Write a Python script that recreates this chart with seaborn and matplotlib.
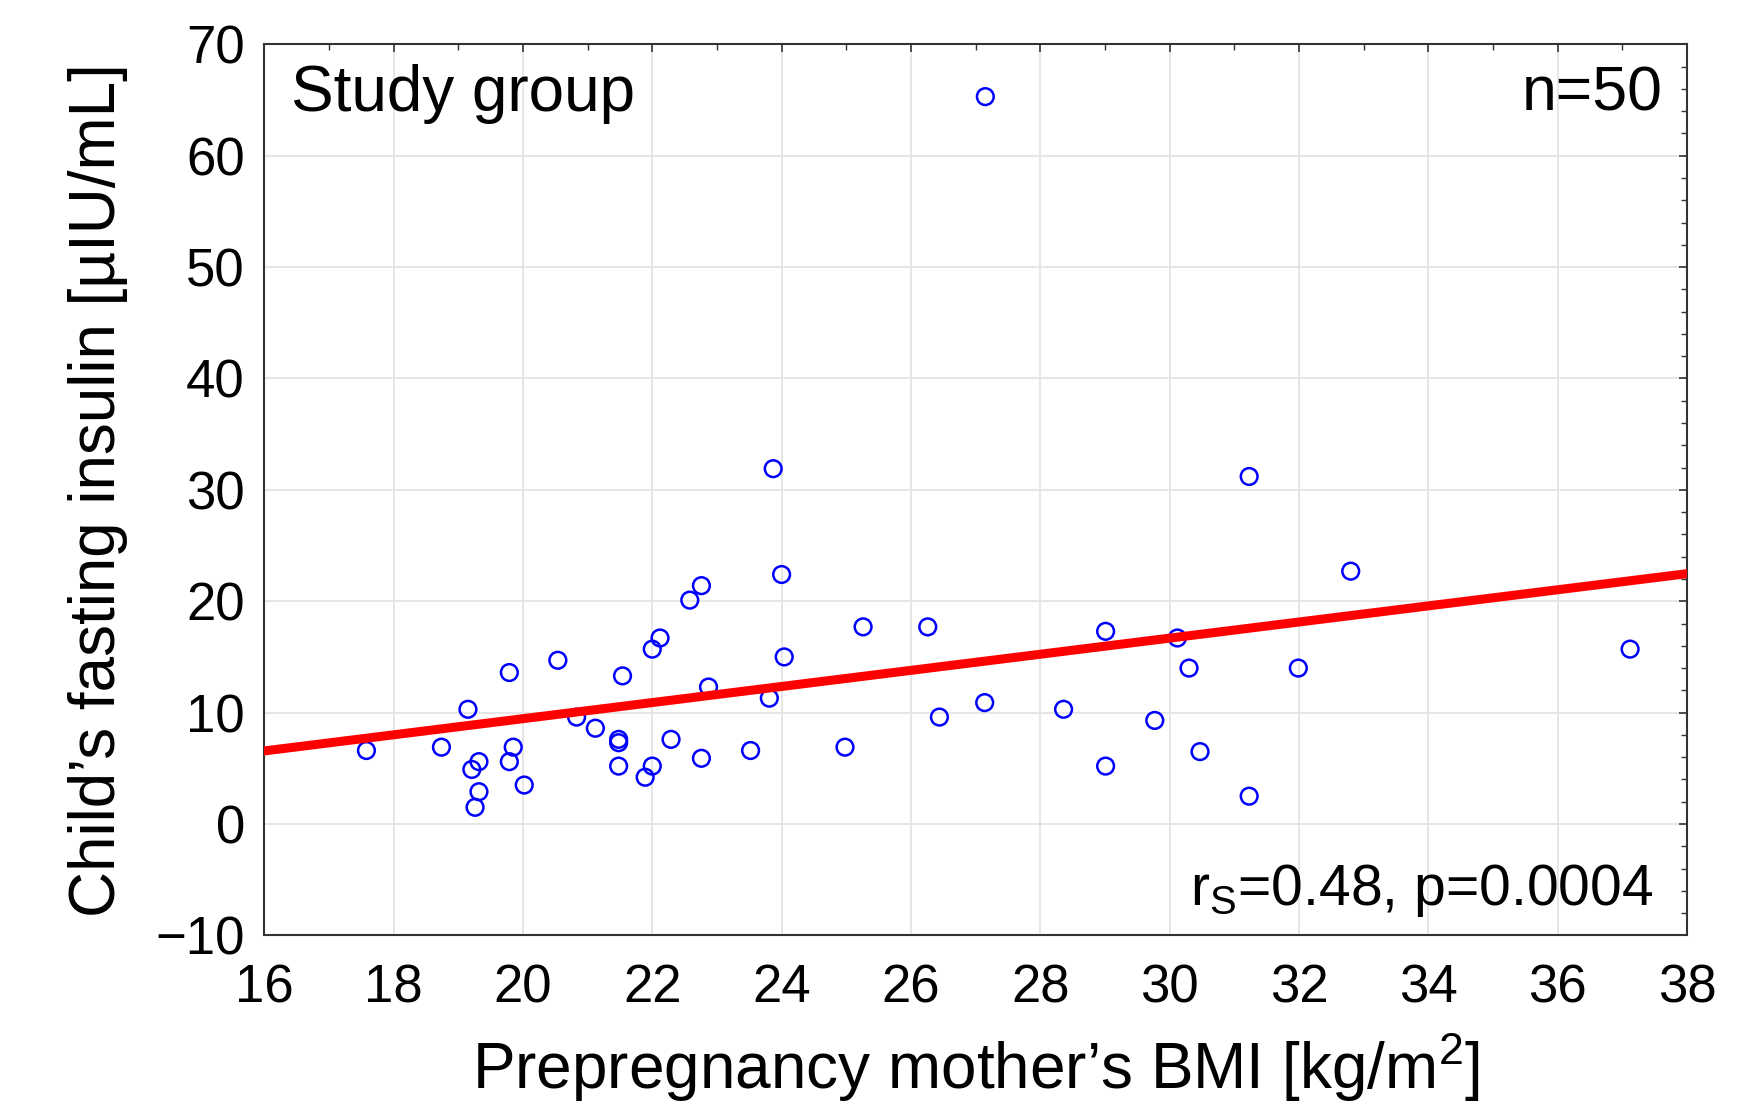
import matplotlib
matplotlib.use('Agg')
import matplotlib.pyplot as plt
from matplotlib.ticker import MultipleLocator
import seaborn as sns

# mother's BMI vs child's fasting insulin, study group
bmi = [17.58, 18.74, 19.15, 19.21, 19.26, 19.32, 19.32, 19.79, 19.79, 19.85,
       20.02, 20.54, 20.83, 21.12, 21.48, 21.48, 21.48, 21.54, 21.89, 22.00,
       22.00, 22.12, 22.29, 22.58, 22.76, 22.76, 22.87, 23.52, 23.81, 23.87,
       24.00, 24.04, 24.98, 25.26, 26.26, 26.44, 27.14, 27.15, 28.36, 29.01,
       29.01, 29.77, 30.12, 30.30, 30.47, 31.23, 31.23, 31.99, 32.80, 37.12]
insulin = [6.6, 6.9, 10.3, 4.9, 1.5, 5.6, 2.9, 13.6, 5.6, 6.9,
           3.5, 14.7, 9.6, 8.6, 7.6, 7.3, 5.2, 13.3, 4.2, 15.7,
           5.2, 16.7, 7.6, 20.1, 21.4, 5.9, 12.3, 6.6, 11.3, 31.9,
           22.4, 15.0, 6.9, 17.7, 17.7, 9.6, 10.9, 65.3, 10.3, 17.3,
           5.2, 9.3, 16.7, 14.0, 6.5, 31.2, 2.5, 14.0, 22.7, 15.7]

x_ticks = list(range(16, 39, 2))
y_ticks = list(range(-10, 71, 10))

sns.set_style('white')
plt.rcParams['font.family'] = ['Liberation Sans', 'DejaVu Sans']
plt.rcParams['mathtext.fontset'] = 'custom'
plt.rcParams['mathtext.rm'] = 'Liberation Sans'
plt.rcParams['text.color'] = 'black'
plt.rcParams['axes.labelcolor'] = 'black'

fig = plt.figure(figsize=(17.5, 11.07), dpi=100)
ax = fig.add_axes([0.151, 0.155, 0.813, 0.805])
ax.set_xlim(16, 38)
ax.set_ylim(-10, 70)

sns.scatterplot(x=bmi, y=insulin, ax=ax, marker='o', s=145,
                facecolor='none', edgecolor='blue', linewidth=1.8, zorder=3)
sns.regplot(x=bmi, y=insulin, ax=ax, scatter=False, ci=None, truncate=False,
            color='red', line_kws={'linewidth': 6.5, 'zorder': 4})

ax.set_xlim(16, 38)
ax.set_ylim(-10, 70)
ax.set_xticks(x_ticks)
ax.set_yticks(y_ticks)
ax.xaxis.set_minor_locator(MultipleLocator(1))
ax.yaxis.set_minor_locator(MultipleLocator(2))
ax.grid(True, which='major', color='#e4e4e4', linewidth=1.3)
ax.set_axisbelow(True)

ax.tick_params(which='both', direction='in', top=True, right=True,
               colors='#333333', labelcolor='black')
ax.tick_params(which='major', length=6, width=1.2, labelsize=38)
ax.tick_params(axis='x', which='major', pad=20)
ax.tick_params(axis='y', which='major', pad=14)
ax.tick_params(which='minor', length=4, width=1.0)
for sp in ax.spines.values():
    sp.set_color('#333333')
    sp.set_linewidth(1.5)

ax.set_xlabel(r'Prepregnancy mother’s BMI [kg/m$^\mathregular{2}$]', fontsize=46, labelpad=12)
ax.set_ylabel('Child’s fasting insulin [µIU/mL]', fontsize=46, labelpad=20)

ax.text(0.019, 0.944, 'Study group', transform=ax.transAxes,
        fontsize=46, ha='left', va='center')
ax.text(0.983, 0.944, 'n=50', transform=ax.transAxes,
        fontsize=45, ha='right', va='center')
ax.text(0.976, 0.05, r'r$_\mathregular{S}$=0.48, p=0.0004', transform=ax.transAxes,
        fontsize=41, ha='right', va='center')

fig.savefig('out.png', dpi=100)
